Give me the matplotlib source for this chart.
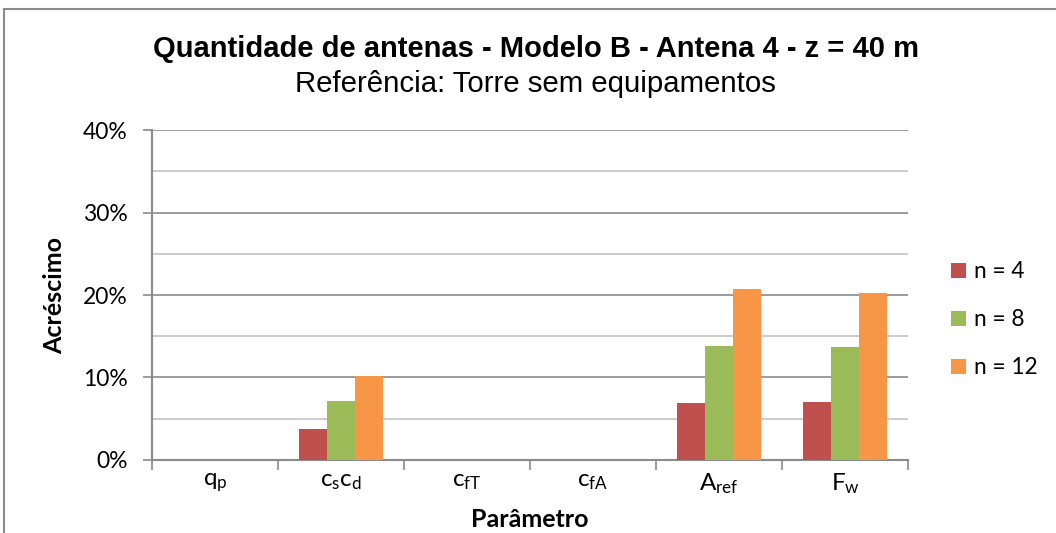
import matplotlib
matplotlib.use("Agg")
import matplotlib.pyplot as plt
import numpy as np
from matplotlib.patches import Rectangle
from matplotlib.ticker import FuncFormatter, MultipleLocator

# ------ data ------
params = [r"$\mathregular{q_p}$", r"$\mathregular{c_sc_d}$", r"$\mathregular{c_{fT}}$",
          r"$\mathregular{c_{fA}}$", r"$\mathregular{A_{ref}}$", r"$\mathregular{F_w}$"]
series = ["n = 4", "n = 8", "n = 12"]
n4 = [0.0, 3.8, 0.0, 0.0, 6.9, 7.0]
n8 = [0.0, 7.1, 0.0, 0.0, 13.8, 13.7]
n12 = [0.0, 10.2, 0.0, 0.0, 20.7, 20.2]
colors = ["#C0504D", "#9BBB59", "#F79646"]

plt.rcParams["font.family"] = ["Lato", "DejaVu Sans"]
plt.rcParams["mathtext.fontset"] = "custom"
plt.rcParams["mathtext.rm"] = "Lato"

fig = plt.figure(figsize=(10.56, 5.33), dpi=100)
ax = fig.add_axes([0.1439, 0.137, 0.716, 0.619])

x = np.arange(len(params))
w = 0.222
for i, (vals, lab, c) in enumerate(zip([n4, n8, n12], series, colors)):
    ax.bar(x + (i - 1) * w, vals, w, color=c, label=lab, zorder=3)

# axes styling
ax.set_xlim(-0.5, len(params) - 0.5)
ax.set_ylim(0, 40)
ax.yaxis.set_major_locator(MultipleLocator(10))
ax.yaxis.set_minor_locator(MultipleLocator(5))
ax.yaxis.set_major_formatter(FuncFormatter(lambda v, p: f"{v:.0f}%"))
ax.grid(axis="y", which="major", color="#8a8a8a", lw=1.2, zorder=0)
ax.grid(axis="y", which="minor", color="#c4c4c4", lw=1.2, zorder=0)
ax.tick_params(axis="y", which="minor", length=0)
ax.tick_params(axis="y", which="major", length=6.5, width=1.2, color="#8a8a8a",
               labelsize=16.5, pad=11)

ax.set_xticks(x)
ax.set_xticklabels(params, fontsize=17.5)
ax.set_xticks(np.arange(-0.5, len(params)), minor=True)
ax.tick_params(axis="x", which="major", length=0, pad=8)
ax.tick_params(axis="x", which="minor", length=7, width=1.2, color="#8a8a8a")

for s in ["top", "right"]:
    ax.spines[s].set_visible(False)
for s in ["left", "bottom"]:
    ax.spines[s].set_color("#8a8a8a")
    ax.spines[s].set_linewidth(1.5)

ax.set_ylabel("Acréscimo", fontsize=18, fontweight="bold", labelpad=12)
ax.set_xlabel("Parâmetro", fontsize=18, fontweight="bold", labelpad=9)

fig.text(0.508, 0.908, "Quantidade de antenas - Modelo B - Antena 4 - z = 40 m",
         ha="center", va="center", fontsize=21, fontweight="bold",
         family="Liberation Sans")
fig.text(0.507, 0.843, "Referência: Torre sem equipamentos",
         ha="center", va="center", fontsize=21.2, family="Liberation Sans")

fig.legend(loc="center left", bbox_to_anchor=(0.9006, 0.40), frameon=False,
           fontsize=16.3, handlelength=0.66, handleheight=0.66, handletextpad=0.35,
           labelspacing=1.2, borderpad=0, borderaxespad=0)

# chart border
fig.patches.append(Rectangle((0.004, -0.01), 1.0, 0.993, transform=fig.transFigure,
                             fill=False, edgecolor="#8a8a8a", lw=1.5))

fig.savefig("out.png", dpi=100)
